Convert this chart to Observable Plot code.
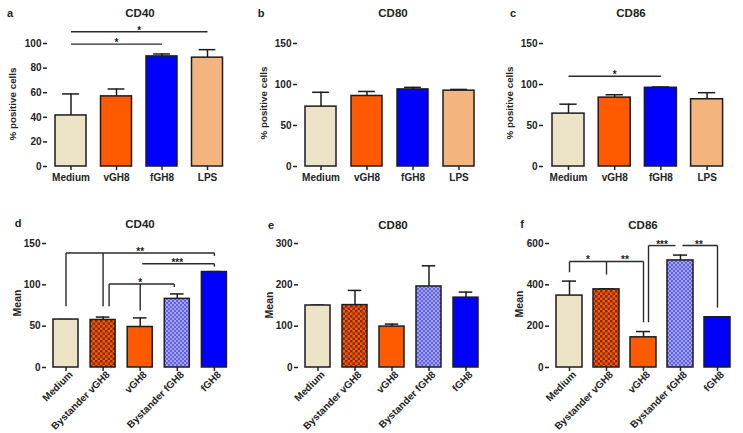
<!DOCTYPE html>
<html><head><meta charset="utf-8">
<script src="https://cdn.jsdelivr.net/npm/d3@7"></script>
<script src="https://cdn.jsdelivr.net/npm/@observablehq/plot@0.6"></script>
<style>
body{margin:0;background:#fff;}
#chart{position:relative;width:743px;height:433px;background:#fff;overflow:hidden;font-family:"Liberation Sans",Arial,sans-serif;font-weight:bold;color:#222;}
.lbl{position:absolute;line-height:1;white-space:nowrap;transform:translate(-50%,-50%);}
.ylab{position:absolute;line-height:1;white-space:nowrap;transform:translate(-50%,-50%) rotate(-90deg);}
</style></head>
<body>
<div id="chart">
<svg width="0" height="0" style="position:absolute;left:0;top:0"><defs>
<pattern id="bystV" patternUnits="userSpaceOnUse" width="5" height="5">
<rect width="5" height="5" fill="#ff5a00"/><rect width="2.5" height="2.5" fill="#7d2c0e"/><rect x="2.5" y="2.5" width="2.5" height="2.5" fill="#7d2c0e"/></pattern>
<pattern id="bystF" patternUnits="userSpaceOnUse" width="4" height="4">
<rect width="4" height="4" fill="#a4a4fa"/><rect width="2" height="2" fill="#6060e6"/><rect x="2" y="2" width="2" height="2" fill="#6060e6"/></pattern>
</defs></svg>
</div>
<script>
// ---------- data ----------
const catsTop = ["Medium", "vGH8", "fGH8", "LPS"];
const catsBottom = ["Medium", "Bystander vGH8", "vGH8", "Bystander fGH8", "fGH8"];

const ticksPct100 = [0, 20, 40, 60, 80, 100];
const ticksPct150 = [0, 50, 100, 150];
const ticksCD40Mfi = [0, 50, 100, 150];
const ticksCD80Mfi = [0, 100, 200, 300];
const ticksCD86Mfi = [0, 200, 400, 600];

// panel a: CD40 % positive cells (mean, mean+SEM)
const cd40PctMean = [41.5, 57, 89.5, 88.5];
const cd40PctTop  = [59, 63, 91.5, 95];
// panel b: CD80 % positive cells
const cd80PctMean = [73, 86, 94, 92.5];
const cd80PctTop  = [90.5, 91.5, 96.5, 94];
// panel c: CD86 % positive cells
const cd86PctMean = [64.5, 84, 96, 82];
const cd86PctTop  = [76, 87.5, 97, 90];
// panel d: CD40 mean
const cd40MfiMean = [58, 57.5, 49, 83, 115.5];
const cd40MfiTop  = [58, 61, 60, 89, 116];
// panel e: CD80 mean
const cd80MfiMean = [150, 151, 99, 196, 169];
const cd80MfiTop  = [151, 186.5, 105, 246, 182.5];
// panel f: CD86 mean
const cd86MfiMean = [348, 378, 146, 518, 243];
const cd86MfiTop  = [418, 381, 174, 544, 243];

// significance brackets
const linesA = [{from:"Medium", to:"fGH8", y:99.5}, {from:"Medium", to:"LPS", y:109.5}];
const starsA = [{from:"Medium", to:"fGH8", y:99.5, label:"*"}, {from:"Medium", to:"LPS", y:109.5, label:"*"}];
const linesC = [{from:"Medium", to:"fGH8", y:110}];
const starsC = [{from:"Medium", to:"fGH8", y:110, label:"*"}];

const linesD = [
  {from:"Medium", to:"fGH8", y:138.5},
  {from:"vGH8", to:"fGH8", y:125.5},
  {from:"Bystander vGH8", to:"Bystander fGH8", y:101}
];
const dropsD = [
  {at:"Medium", y1:138.5, y2:74},
  {at:"Bystander vGH8", y1:138.5, y2:74},
  {at:"fGH8", y1:138.5, y2:135},
  {at:"fGH8", y1:125.5, y2:122},
  {at:"Bystander vGH8", y1:101, y2:74},
  {at:"Bystander fGH8", y1:101, y2:97.5},
  {at:"vGH8", y1:101, y2:69}
];
const starsD = [
  {from:"Medium", to:"fGH8", y:138.5, label:"**"},
  {from:"vGH8", to:"fGH8", y:125.5, label:"***"},
  {from:"Bystander vGH8", to:"Bystander fGH8", y:101, label:"*"}
];

const linesF = [
  {from:"Medium", to:"vGH8", y:513},
  {from:"vGH8", to:"Bystander fGH8", y:590},
  {from:"Bystander fGH8", to:"fGH8", y:590}
];
const dropsF = [
  {at:"Medium", y1:513, y2:461},
  {at:"Bystander vGH8", y1:513, y2:450},
  {at:"vGH8", y1:513, y2:219},
  {at:"vGH8", y1:590, y2:219},
  {at:"fGH8", y1:590, y2:290}
];
const starsF = [
  {from:"Medium", to:"Bystander vGH8", y:513, label:"*"},
  {from:"Bystander vGH8", to:"vGH8", y:513, label:"**"},
  {from:"vGH8", to:"Bystander fGH8", y:590, label:"***"},
  {from:"Bystander fGH8", to:"fGH8", y:590, label:"**"}
];

// ---------- styling / layout ----------
const fillOf = {
  "Medium": "#ede4c7",
  "vGH8": "#ff5a00",
  "fGH8": "#0000ff",
  "LPS": "#f3b47d",
  "Bystander vGH8": "url(#bystV)",
  "Bystander fGH8": "url(#bystF)"
};
const INK = "#1c1c1c";

const panels = [
  {letter:"a", title:"CD40", ylabel:"% positive cells", cats:catsTop, mean:cd40PctMean, top:cd40PctTop,
   yDomain:[0,100], yTicks:ticksPct100, lines:linesA, drops:[], stars:starsA, rotate:0,
   box:{left:0, top:0, width:240, height:200, mt:43, mb:34}, geo:{axis:47, end:226, first:55, step:45.5, bw:31},
   titlePos:[140,14], letterPos:[10,13], ylabPos:[13,104], ylabSize:9.8},
  {letter:"b", title:"CD80", ylabel:"% positive cells", cats:catsTop, mean:cd80PctMean, top:cd80PctTop,
   yDomain:[0,150], yTicks:ticksPct150, lines:[], drops:[], stars:[], rotate:0,
   box:{left:245, top:0, width:245, height:200, mt:43, mb:34}, geo:{axis:52, end:235, first:60, step:46, bw:31},
   titlePos:[393,14], letterPos:[261,13], ylabPos:[264,103], ylabSize:9.8},
  {letter:"c", title:"CD86", ylabel:"% positive cells", cats:catsTop, mean:cd86PctMean, top:cd86PctTop,
   yDomain:[0,150], yTicks:ticksPct150, lines:linesC, drops:[], stars:starsC, rotate:0,
   box:{left:495, top:0, width:248, height:200, mt:43, mb:34}, geo:{axis:48, end:231, first:57, step:46.2, bw:32},
   titlePos:[631,14], letterPos:[513,13], ylabPos:[510,103], ylabSize:9.8},
  {letter:"d", title:"CD40", ylabel:"Mean", cats:catsBottom, mean:cd40MfiMean, top:cd40MfiTop,
   yDomain:[0,150], yTicks:ticksCD40Mfi, lines:linesD, drops:dropsD, stars:starsD, rotate:-45,
   box:{left:0, top:200, width:240, height:233, mt:43, mb:66}, geo:{axis:46, end:232, first:53, step:37.1, bw:25},
   nudge:{lines:{1:{s:2}, 2:{s:6, e:3}}, drops:{4:{dx:6}, 5:{dx:-3}}},
   titlePos:[140,225], letterPos:[18,223], ylabPos:[17,303], ylabSize:10.5},
  {letter:"e", title:"CD80", ylabel:"Mean", cats:catsBottom, mean:cd80MfiMean, top:cd80MfiTop,
   yDomain:[0,300], yTicks:ticksCD80Mfi, lines:[], drops:[], stars:[], rotate:-45,
   box:{left:245, top:200, width:245, height:233, mt:43, mb:66}, geo:{axis:53, end:237, first:60, step:37, bw:25},
   titlePos:[393,226], letterPos:[271,225], ylabPos:[269,305], ylabSize:10.5},
  {letter:"f", title:"CD86", ylabel:"Mean", cats:catsBottom, mean:cd86MfiMean, top:cd86MfiTop,
   yDomain:[0,600], yTicks:ticksCD86Mfi, lines:linesF, drops:dropsF, stars:starsF, rotate:-45,
   box:{left:495, top:200, width:248, height:233, mt:43, mb:66}, geo:{axis:54, end:242, first:61, step:37, bw:26},
   nudge:{lines:{1:{s:5, e:5}, 2:{s:2}}, drops:{3:{dx:5}}},
   titlePos:[643,226], letterPos:[522,224], ylabPos:[519,304], ylabSize:10.5}
];

const chart = document.getElementById("chart");

function addLabel(text, [x, y], size, cls) {
  const d = document.createElement("div");
  d.className = cls;
  d.textContent = text;
  d.style.left = x + "px";
  d.style.top = y + "px";
  d.style.fontSize = size + "px";
  chart.appendChild(d);
}

for (const p of panels) {
  const g = p.geo, n = p.cats.length, b = p.box;
  const data = p.cats.map((c, i) => ({cat: c, mean: p.mean[i], top: p.top[i]}));
  const idx = c => p.cats.indexOf(c);
  const nud = p.nudge || {lines: {}, drops: {}};
  const marks = [
    Plot.ruleX(data, {x: "cat", y1: "mean", y2: "top", stroke: INK, strokeWidth: 1.5}),
    Plot.tickY(data, {x: "cat", y: "top", stroke: INK, strokeWidth: 1.5, insetLeft: g.bw * 0.23, insetRight: g.bw * 0.23}),
    Plot.barY(data, {x: "cat", y: "mean", fill: "cat", stroke: INK, strokeWidth: 1.5}),
    Plot.axisY(p.yTicks, {tickSize: 4, tickPadding: 2, strokeWidth: 1.5, line: true, label: null})
  ];
  if (p.rotate) {
    marks.push(Plot.axisX({tickSize: 4, strokeWidth: 1.5, line: true, label: null, tickFormat: () => ""}));
    marks.push(Plot.text(p.cats, {x: d => d, text: d => d, frameAnchor: "bottom", rotate: p.rotate,
      textAnchor: "end", lineAnchor: "middle", dx: 5, dy: 5.5, fontSize: 10, fontWeight: "bold", fill: "#222"}));
  } else {
    marks.push(Plot.axisX({tickSize: 4, tickPadding: 3, strokeWidth: 1.5, line: true, label: null}));
  }
  p.lines.forEach((l, i) => {
    const nd = (nud.lines || {})[i] || {};
    marks.push(Plot.arrow([l], {x1: "from", x2: "to", y1: "y", y2: "y", headLength: 0, bend: 0,
      insetStart: nd.s || 0, insetEnd: nd.e || 0, stroke: "#2a2a2a", strokeWidth: 1.4, strokeLinecap: "butt"}));
  });
  p.drops.forEach((d, i) => {
    const nd = (nud.drops || {})[i] || {};
    marks.push(Plot.link([d], {x1: "at", x2: "at", y1: "y1", y2: "y2", dx: nd.dx || 0, stroke: "#2a2a2a", strokeWidth: 1.4}));
  });
  p.stars.forEach(s => {
    marks.push(Plot.text([s], {x: "from", y: "y", text: "label", dx: (idx(s.to) - idx(s.from)) * g.step / 2,
      dy: 2, lineAnchor: "bottom", fontSize: 10, fontWeight: "bold", fill: "#222"}));
  });
  const svg = Plot.plot({
    width: b.width, height: b.height,
    marginLeft: g.axis, marginRight: b.width - g.end, marginTop: b.mt, marginBottom: b.mb,
    style: {fontFamily: '"Liberation Sans", Arial, sans-serif', fontWeight: "bold", fontSize: "10px",
            color: "#222", background: "transparent", overflow: "visible"},
    x: {type: "band", domain: p.cats, range: [g.first, g.first + n * g.step - (g.step - g.bw)],
        paddingInner: 1 - g.bw / g.step, paddingOuter: 0, align: 0, round: false, label: null},
    y: {domain: p.yDomain, label: null},
    color: {type: "ordinal", domain: p.cats, range: p.cats.map(c => fillOf[c])},
    marks
  });
  svg.style.position = "absolute";
  svg.style.left = b.left + "px";
  svg.style.top = b.top + "px";
  chart.appendChild(svg);
  addLabel(p.title, p.titlePos, 11.5, "lbl");
  addLabel(p.letter, p.letterPos, 11, "lbl");
  addLabel(p.ylabel, p.ylabPos, p.ylabSize, "ylab");
}
</script>
</body></html>
